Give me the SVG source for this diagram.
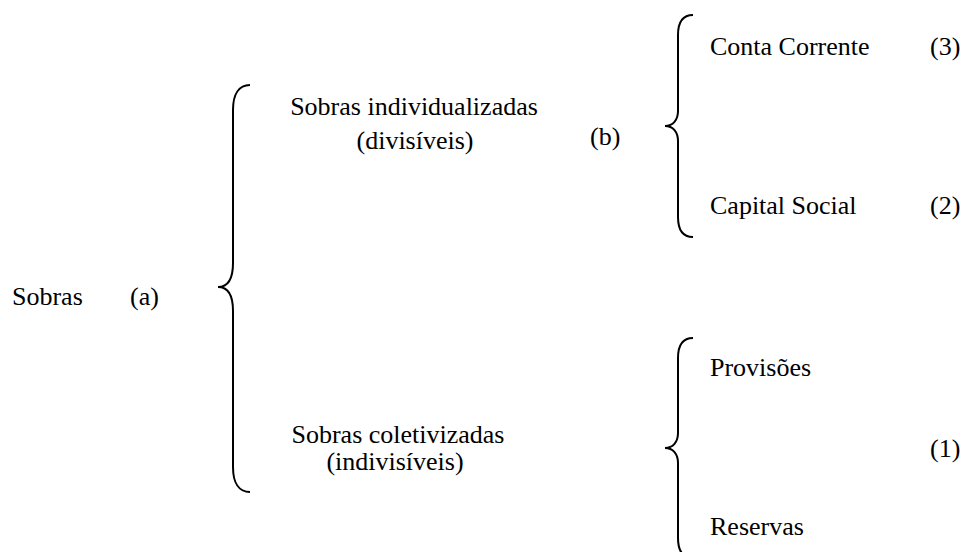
<svg xmlns="http://www.w3.org/2000/svg" width="960" height="552" viewBox="0 0 960 552">
<style>
text{font-family:"Liberation Serif","Times New Roman",serif;font-size:26px;fill:#000}
.c{text-anchor:middle}
.br{fill:none;stroke:#000;stroke-width:2}
</style>
<rect width="960" height="552" fill="#fff"/>
<g id="connectors">
<path class="br" d="M250,85 C239,85 233,94 233,110 L233,263 C233,279 228,287 218,287 C228,287 233,295 233,311 L233,467 C233,483 239,492 250,492"/>
<path class="br" d="M693,15 C683,15 678,22 678,35 L678,111 C678,120 673,126 665,126 C673,126 678,132 678,141 L678,217 C678,230 683,237 693,237"/>
<path class="br" d="M693,338 C683,338 678,345 678,358 L678,433 C678,442 673,448 665,448 C673,448 678,454 678,463 L678,538 C678,551 683,558 693,558"/>
</g>
<g id="sobras"><text x="12" y="305">Sobras</text><text x="130" y="305">(a)</text></g>
<g id="individualizadas"><text class="c" x="414" y="115">Sobras individualizadas</text><text class="c" x="415" y="149">(divisíveis)</text><text x="590" y="145">(b)</text></g>
<g id="coletivizadas"><text class="c" x="398" y="443">Sobras coletivizadas</text><text class="c" x="395" y="470">(indivisíveis)</text></g>
<g id="conta-corrente"><text x="710" y="55">Conta Corrente</text><text x="930" y="55">(3)</text></g>
<g id="capital-social"><text x="710" y="214">Capital Social</text><text x="930" y="214">(2)</text></g>
<g id="provisoes"><text x="710" y="376">Provisões</text></g>
<g id="reservas"><text x="710" y="535">Reservas</text></g>
<g id="label-1"><text x="930" y="457">(1)</text></g>
</svg>
